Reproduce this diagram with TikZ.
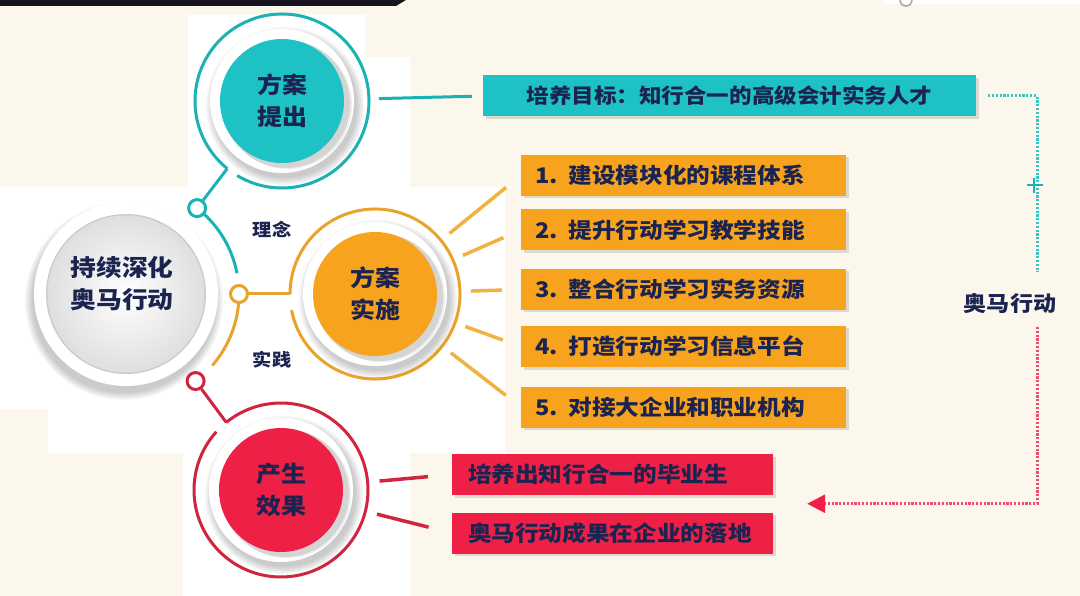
\documentclass[tikz,border=0pt]{standalone}
\usepackage{fontspec}
\setmainfont{Noto Sans CJK SC}[FakeStretch=1.1]
\usetikzlibrary{shadows,arrows.meta,calc}
\definecolor{cream}{HTML}{FBF7EC}
\definecolor{navy}{HTML}{1B2450}
\definecolor{topbar}{HTML}{16141C}
\definecolor{tealA}{HTML}{1FC2C4}
\definecolor{tealR}{HTML}{1AB2B2}
\definecolor{tdotc}{HTML}{3DC3C3}
\definecolor{orangeA}{HTML}{F8A31D}
\definecolor{orangeR}{HTML}{E9A32C}
\definecolor{orangeS}{HTML}{F1B23F}
\definecolor{redA}{HTML}{EE2046}
\definecolor{redR}{HTML}{D0243F}
\definecolor{rdotc}{HTML}{E8506C}
\newcommand{\softshadow}[3]{%
  \foreach \k in {0,1,2,3,4,5}{%
    \fill[black,opacity=0.035] ($(#1)+(#3)$) circle[radius={(#2+7-1.4*\k)*1pt}];}}
\tikzset{
  ring/.style={line width=3pt},
  conn/.style={line width=3pt},
  spoke/.style={line width=3.5pt},
  dotc/.style={circle, draw, line width=3pt, fill=white, minimum size=17pt, inner sep=0pt},
  disc/.style={circle, minimum size=124pt, inner sep=0pt, align=center, text=navy,
    font=\fontsize{22.7}{32}\selectfont\bfseries},
  box/.style={rectangle, inner xsep=14pt, inner ysep=0pt, minimum height=41pt, text=navy,
    font=\fontsize{21.5}{24}\selectfont\bfseries,
    drop shadow={shadow xshift=2.5pt, shadow yshift=-2.5pt, opacity=0.25}},
  obox/.style={box, fill=orangeA, text width=297pt, align=left},
  rbox/.style={box, fill=redA, inner xsep=16pt, text width=289pt, align=left},
  tbox/.style={box, fill=tealA, text width=465pt, align=center,
    font=\fontsize{20.5}{24}\selectfont\bfseries},
  lbl/.style={text=navy, inner sep=0pt, font=\fontsize{17.5}{20}\selectfont\bfseries},
  tdots/.style={draw=tdotc, line width=3pt, dash pattern=on 2.2pt off 1.6pt},
  rdots/.style={draw=rdotc, line width=3pt, dash pattern=on 2.2pt off 1.6pt},
}
\begin{document}
\begin{tikzpicture}[x=1pt,y=-1pt]
\useasboundingbox (0,0) rectangle (1080,596);
% background
\fill[cream] (0,0) rectangle (1080,596);
\fill[white] (188,15) -- (365,15) -- (365,57) -- (410,57) -- (410,187) -- (505,187)
  -- (505,453) -- (410,453) -- (410,596) -- (183,596) -- (183,453) -- (48,453)
  -- (48,409) -- (0,409) -- (0,187) -- (188,187) -- cycle;
\fill[topbar] (0,0) -- (406,0) -- (396,6) -- (0,6) -- cycle;
\fill[white] (884,0) rectangle (1080,4);
\draw[gray!70, line width=1.5pt] (900,0) arc[start angle=180, end angle=360, radius=6pt];

% main circle
\coordinate (mcc) at (126,294);
\softshadow{mcc}{92}{-2pt,-7pt}
\fill[white] (mcc) circle[radius=92pt];
\fill[gray!40] (mcc) circle[radius=80pt];
\shade[inner color=white, outer color=gray!25] (mcc) circle[radius=78.5pt];
\node[text=navy, align=center, font=\fontsize{23.4}{32}\selectfont\bfseries] (mc) at (122,284) {持续深化\\奥马行动};

% connecting arc around main circle
\coordinate (arcc) at (130,294);
\draw[conn, tealR] ([shift={(50:109pt)}]arcc) arc[start angle=50, end angle=11, radius=109pt];
\draw[conn, orangeR] ([shift={(0:109pt)}]arcc) arc[start angle=0, end angle=-41, radius=109pt];

% teal circle
\coordinate (tcc) at (282,101);
\draw[ring, tealR] ([shift={(239:87pt)}]tcc) arc[start angle=239, end angle=591, radius=87pt];
\softshadow{tcc}{72}{3pt,-5pt}
\fill[white] (tcc) circle[radius=72pt];
\begin{scope}
  \clip (tcc) circle[radius=72pt];
  \fill[black, opacity=.10] ($(tcc)+(4pt,-3pt)$) circle[radius=64pt];
  \fill[black, opacity=.07] ($(tcc)+(6pt,-4pt)$) circle[radius=64pt];
\end{scope}
\node[disc, fill=tealA] (tc) at (tcc) {方案\\提出};

% orange circle
\coordinate (occ) at (375,294);
\draw[ring, orangeR] ([shift={(191:85pt)}]occ) arc[start angle=191, end angle=540, radius=85pt];
\softshadow{occ}{72}{3pt,-5pt}
\fill[white] (occ) circle[radius=72pt];
\begin{scope}
  \clip (occ) circle[radius=72pt];
  \fill[black, opacity=.10] ($(occ)+(4pt,-3pt)$) circle[radius=64pt];
  \fill[black, opacity=.07] ($(occ)+(6pt,-4pt)$) circle[radius=64pt];
\end{scope}
\node[disc, fill=orangeA] (oc) at (occ) {方案\\实施};

% red circle
\coordinate (rcc) at (281,490);
\draw[ring, redR] ([shift={(138:87pt)}]rcc) arc[start angle=138, end angle=489, radius=87pt];
\softshadow{rcc}{72}{3pt,-5pt}
\fill[white] (rcc) circle[radius=72pt];
\begin{scope}
  \clip (rcc) circle[radius=72pt];
  \fill[black, opacity=.10] ($(rcc)+(4pt,-3pt)$) circle[radius=64pt];
  \fill[black, opacity=.07] ($(rcc)+(6pt,-4pt)$) circle[radius=64pt];
\end{scope}
\node[disc, fill=redA] (rc) at (rcc) {产生\\效果};

% small link dots
\node[dotc, draw=tealR] (tdot) at ([shift={(52:109pt)}]arcc) {};
\node[dotc, draw=orangeR] (odot) at ([shift={(0:109pt)}]arcc) {};
\node[dotc, draw=redR] (rdot) at ([shift={(-53:109pt)}]arcc) {};
\coordinate (tgap) at ([shift={(231:87pt)}]tcc);
\coordinate (ogap) at ([shift={(180:85pt)}]occ);
\coordinate (rgap) at ([shift={(129:87pt)}]rcc);
\draw[conn, tealR] (tdot) -- (tgap);
\draw[conn, orangeR] (odot) -- (ogap);
\draw[conn, redR] (rdot) -- (rgap);

% labels
\node[lbl] (l1) at (272,229) {理念};
\node[lbl] (l2) at (272,360) {实践};

% boxes
\node[tbox] (tb) at (729.5,96) {培养目标：知行合一的高级会计实务人才};
\node[obox] (ob1) at (683.5,175.5) {1. 建设模块化的课程体系};
\node[obox] (ob2) at (683.5,230) {2. 提升行动学习教学技能};
\node[obox] (ob3) at (683.5,289.5) {3. 整合行动学习实务资源};
\node[obox] (ob4) at (683.5,346.5) {4. 打造行动学习信息平台};
\node[obox] (ob5) at (683.5,407) {5. 对接大企业和职业机构};
\node[rbox] (rb1) at (612.5,474.5) {培养出知行合一的毕业生};
\node[rbox] (rb2) at (612.5,533) {奥马行动成果在企业的落地};

% spokes
\draw[conn, tealR, shorten <=97pt, shorten >=11pt] (tc.center) -- (tb.west);
\foreach \i in {1,...,5}{
  \draw[spoke, orangeS, shorten <=96pt, shorten >=19pt] (oc.center) -- (ob\i.west);
}
\foreach \i in {1,2}{
  \draw[spoke, redR, shorten <=99pt, shorten >=24pt] (rc.center) -- (rb\i.west);
}

% right side loop
\node[lbl, font=\fontsize{21}{24}\selectfont\bfseries] (l3) at (1010,303) {奥马行动};
\coordinate (tcorner) at (1037,96);
\coordinate (tend) at (1037,272);
\draw[tdots] ([xshift=12pt]tb.east) -- (tcorner) -- (tend);
\draw[tealR, line width=2.5pt] (1027,185) -- (1043,185) (1034,178) -- (1034,193);
\coordinate (rstart) at (1037,327);
\coordinate (rtip) at ($(rb1.south east)!0.5!(rb2.north east)+(34pt,0pt)$);
\draw[rdots, -{Triangle[length=18pt, width=18pt, color=redA]}] (rstart) -- (rstart |- rtip) -- (rtip);
\end{tikzpicture}
\end{document}
